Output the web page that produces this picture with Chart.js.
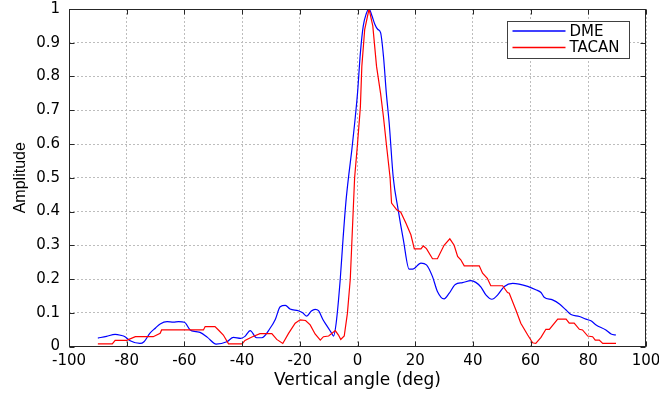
<!DOCTYPE html>
<html>
<head>
<meta charset="utf-8">
<script src="https://cdn.jsdelivr.net/npm/chart.js@4.4.0/dist/chart.umd.min.js"></script>
<style>
  html, body { margin: 0; padding: 0; background: #fff; }
</style>
</head>
<body>
<canvas id="grafico" width="659" height="394"></canvas>
<script>
// Valores (angulo em graus, amplitude normalizada)
const dmeAngulo = [-90, -87, -84, -82, -80.6, -78.8, -75.4, -74, -72, -70, -68.4, -66, -63.8, -62, -60, -58, -56, -54.6, -52, -49,
    -45.3, -43, -40.5, -39, -37.2, -35, -33.2, -30.3, -28.5, -26.8, -25, -23.4, -20.5, -19, -17.6, -16, -14.7, -13.5, -12, -10.6,
    -9, -8.3, -7.4, -6, -5, -4, -3, -2, -1, 0, 1, 2, 3, 4, 5, 6, 7, 8, 9, 10,
    11, 12.4, 14.1, 15.9, 17.9, 19.1, 22, 23.9, 26, 27.7, 30, 31.8, 33.9, 36.4, 39.3, 41, 42.8, 44.5, 46.6, 48.6,
    50.9, 53.8, 56, 59, 61.8, 63.6, 64.7, 67.6, 70, 72.3, 74, 76.9, 79.2, 80.9, 82.7, 86.1, 87.9, 89.6];
const dmeAmplitude = [0.025, 0.03, 0.036, 0.033, 0.029, 0.017, 0.009, 0.014, 0.039, 0.055, 0.067, 0.074, 0.072, 0.074, 0.072, 0.049, 0.044, 0.042, 0.027, 0.007,
    0.014, 0.027, 0.024, 0.03, 0.047, 0.026, 0.026, 0.054, 0.08, 0.118, 0.122, 0.111, 0.106, 0.1, 0.09, 0.105, 0.11, 0.106, 0.08, 0.061,
    0.04, 0.031, 0.069, 0.197, 0.32, 0.43, 0.51, 0.58, 0.66, 0.75, 0.87, 0.95, 0.985, 1.0, 0.98, 0.955, 0.94, 0.93, 0.86, 0.75,
    0.66, 0.5, 0.405, 0.316, 0.229, 0.229, 0.247, 0.242, 0.207, 0.163, 0.141, 0.158, 0.184, 0.189, 0.195, 0.19, 0.176, 0.153, 0.14, 0.153,
    0.178, 0.187, 0.185, 0.178, 0.168, 0.16, 0.146, 0.138, 0.126, 0.108, 0.095, 0.089, 0.081, 0.076, 0.064, 0.049, 0.037, 0.034];

const tacanAngulo = [-90, -85, -84, -80, -77, -70.8, -68.4, -67.9, -53.4, -52.8, -49.4, -48.2, -46.5, -44.7, -40, -39, -36.6, -33.8, -29.7, -28,
    -25.9, -23.9, -21.6, -19.9, -18, -16.4, -14.7, -12.9, -11.8, -10, -7.7, -6.6, -5.8, -4.6, -3.5, -2.5, -2, -1.5, -1, 0,
    1, 1.5, 2.5, 4, 5.3, 6.6, 8, 9, 10, 11.3, 11.8, 13.6, 15, 16.8, 18.5, 19.7, 22, 22.8, 23.9, 26,
    27.7, 30, 32, 33.5, 34.7, 35.8, 37, 42.2, 43.35, 45, 46.2, 50.3, 52, 52.6, 54.9, 56.6, 59, 60.7, 61.8, 63.6,
    65.3, 66.5, 69.4, 72.3, 73.4, 75.1, 76.9, 78, 79.8, 81.5, 82.4, 83.8, 85, 89.6];
const tacanAmplitude = [0.008, 0.008, 0.018, 0.018, 0.029, 0.029, 0.039, 0.049, 0.049, 0.059, 0.059, 0.049, 0.034, 0.008, 0.008, 0.018, 0.028, 0.038, 0.038, 0.021,
    0.009, 0.039, 0.069, 0.079, 0.077, 0.064, 0.037, 0.019, 0.029, 0.031, 0.047, 0.034, 0.021, 0.031, 0.098, 0.2, 0.3, 0.4, 0.5, 0.6,
    0.71, 0.83, 0.94, 1.0, 0.95, 0.83, 0.75, 0.68, 0.6, 0.5, 0.425, 0.405, 0.398, 0.365, 0.331, 0.289, 0.289, 0.298, 0.29, 0.26,
    0.26, 0.3, 0.319, 0.3, 0.267, 0.257, 0.239, 0.239, 0.217, 0.202, 0.18, 0.18, 0.16, 0.158, 0.108, 0.069, 0.034, 0.011, 0.009, 0.027,
    0.051, 0.051, 0.081, 0.081, 0.069, 0.069, 0.051, 0.049, 0.031, 0.029, 0.019, 0.019, 0.009, 0.009];

const xTicks = [-100, -80, -60, -40, -20, 0, 20, 40, 60, 80, 100];
const yTicks = [0, 0.1, 0.2, 0.3, 0.4, 0.5, 0.6, 0.7, 0.8, 0.9, 1];

function pontos(xs, ys) {
    return xs.map((x, i) => ({x: x, y: ys[i]}));
}

// moldura preta com marcas de escala para dentro (estilo MATLAB)
const moldura = {
    id: 'moldura',
    afterDraw(chart) {
        const {ctx, chartArea: a, scales} = chart;
        const l = Math.round(a.left) + 0.5, r = Math.round(a.right) - 0.5;
        const t = Math.round(a.top) + 0.5, b = Math.round(a.bottom) - 0.5;
        ctx.save();
        ctx.strokeStyle = '#262626';
        ctx.lineWidth = 1;
        ctx.strokeRect(l, t, r - l, b - t);
        ctx.beginPath();
        xTicks.forEach(v => {
            const px = Math.round(scales.x.getPixelForValue(v)) + 0.5;
            ctx.moveTo(px, b); ctx.lineTo(px, b - 5);
            ctx.moveTo(px, t); ctx.lineTo(px, t + 5);
        });
        yTicks.forEach(v => {
            const py = Math.round(scales.y.getPixelForValue(v)) + 0.5;
            ctx.moveTo(l, py); ctx.lineTo(l + 5, py);
            ctx.moveTo(r, py); ctx.lineTo(r - 5, py);
        });
        ctx.stroke();

        // legenda dentro da area do grafico
        const bx = Math.round(a.right - 139) + 0.5, by = Math.round(a.top + 12) + 0.5;
        ctx.fillStyle = '#fff';
        ctx.fillRect(bx, by, 122, 37);
        ctx.strokeStyle = '#404040';
        ctx.strokeRect(bx, by, 122, 37);
        ctx.font = '15px "DejaVu Sans"';
        ctx.textBaseline = 'middle';
        chart.data.datasets.forEach((ds, i) => {
            const ly = by + 9.5 + i * 16.5;
            ctx.strokeStyle = ds.borderColor;
            ctx.lineWidth = 1.5;
            ctx.beginPath();
            ctx.moveTo(bx + 5, ly); ctx.lineTo(bx + 58, ly);
            ctx.stroke();
            ctx.fillStyle = '#000';
            ctx.fillText(ds.label, bx + 62, ly + 1);
        });
        ctx.restore();
    }
};

const ctx = document.getElementById('grafico').getContext('2d');
const chart = new Chart(ctx, {
    type: 'line',
    data: {
        datasets: [{
            label: 'DME',
            data: pontos(dmeAngulo, dmeAmplitude),
            borderColor: '#0000ff',
            borderWidth: 1.2,
            pointRadius: 0,
            cubicInterpolationMode: 'monotone',
            order: 2
        }, {
            label: 'TACAN',
            data: pontos(tacanAngulo, tacanAmplitude),
            borderColor: '#ff0000',
            borderWidth: 1.2,
            pointRadius: 0,
            tension: 0,
            order: 1
        }]
    },
    options: {
        responsive: false,
        animation: false,
        devicePixelRatio: 1,
        layout: { padding: { top: 9, right: 13, bottom: 0, left: 0 } },
        plugins: {
            legend: { display: false },
            tooltip: { enabled: false }
        },
        scales: {
            x: {
                type: 'linear',
                min: -100,
                max: 100,
                afterBuildTicks: s => { s.ticks = xTicks.map(v => ({value: v})); },
                afterFit: s => { s.height = 47.5; s.paddingLeft = 0; s.paddingRight = 0; },
                grid: { color: '#bdbdbd', drawTicks: false },
                border: { display: false, dash: [2, 2] },
                ticks: {
                    color: '#000',
                    padding: 6,
                    maxRotation: 0,
                    font: { family: 'DejaVu Sans', size: 15 }
                },
                title: {
                    display: true,
                    text: 'Vertical angle (deg)',
                    color: '#000',
                    font: { family: 'DejaVu Sans', size: 17 },
                    padding: { top: 0, bottom: 3 }
                }
            },
            y: {
                type: 'linear',
                min: 0,
                max: 1,
                afterBuildTicks: s => { s.ticks = yTicks.map(v => ({value: v})); },
                afterFit: s => { s.width = 69; s.paddingTop = 0; s.paddingBottom = 0; },
                grid: { color: '#bdbdbd', drawTicks: false },
                border: { display: false, dash: [2, 2] },
                ticks: {
                    color: '#000',
                    padding: 9,
                    font: { family: 'DejaVu Sans', size: 15 },
                    callback: v => String(Number(v.toFixed(1)))
                },
                title: {
                    display: true,
                    text: 'Amplitude',
                    color: '#000',
                    font: { family: 'Liberation Sans', size: 16 },
                    padding: { top: 11, bottom: 0 }
                }
            }
        }
    },
    plugins: [moldura]
});
</script>
</body>
</html>
